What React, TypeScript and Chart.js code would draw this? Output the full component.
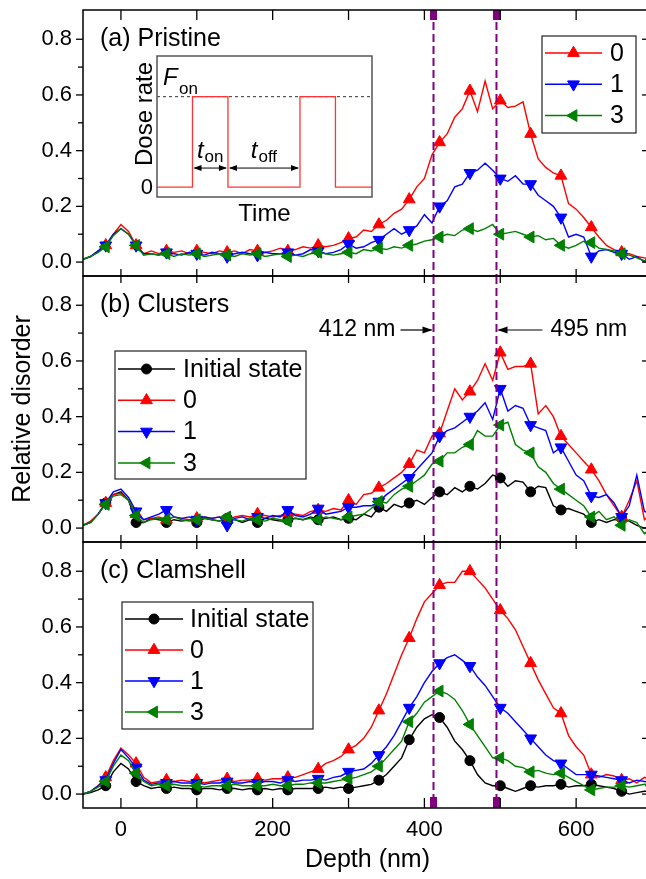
import React, { useEffect, useRef } from "react";
import { Chart, registerables } from "chart.js";
import { drawPoint } from "chart.js/helpers";

Chart.register(...registerables);

// ---------- DATA ----------
const depth = [
  -50, -40, -30, -20, -10, 0, 10, 20, 30, 40,
  50, 60, 70, 80, 90, 100, 110, 120, 130, 140,
  150, 160, 170, 180, 190, 200, 210, 220, 230, 240,
  250, 260, 270, 280, 290, 300, 310, 320, 330, 340,
  350, 360, 370, 380, 390, 400, 410, 420, 430, 440,
  450, 460, 470, 480, 490, 500, 510, 520, 530, 540,
  550, 560, 570, 580, 590, 600, 610, 620, 630, 640,
  650, 660, 670, 680, 690, 700,
];

// (a) Pristine
const aZero = [
  0.01, 0.02, 0.04, 0.06, 0.10, 0.135, 0.11, 0.06, 0.03, 0.04,
  0.03, 0.04, 0.035, 0.04, 0.03, 0.04, 0.035, 0.03, 0.04, 0.035,
  0.04, 0.03, 0.045, 0.04, 0.035, 0.04, 0.05, 0.04, 0.045, 0.055,
  0.05, 0.06, 0.055, 0.06, 0.07, 0.085, 0.09, 0.115, 0.11, 0.135,
  0.15, 0.175, 0.19, 0.225, 0.27, 0.30, 0.385, 0.43, 0.46, 0.52,
  0.55, 0.615, 0.54, 0.65, 0.55, 0.58, 0.555, 0.56, 0.575, 0.46,
  0.37, 0.34, 0.32, 0.31, 0.21, 0.19, 0.16, 0.125, 0.09, 0.06,
  0.045, 0.035, 0.03, 0.02, 0.015, 0.01,
];
const aOne = [
  0.01, 0.02, 0.04, 0.06, 0.10, 0.12, 0.10, 0.06, 0.03, 0.03,
  0.025, 0.035, 0.03, 0.025, 0.035, 0.03, 0.025, 0.035, 0.03, 0.02,
  0.03, 0.035, 0.03, 0.025, 0.035, 0.03, 0.03, 0.035, 0.025, 0.03,
  0.045, 0.04, 0.03, 0.035, 0.045, 0.065, 0.05, 0.055, 0.07, 0.08,
  0.10, 0.12, 0.10, 0.115, 0.13, 0.17, 0.14, 0.20, 0.22, 0.27,
  0.28, 0.32, 0.33, 0.355, 0.33, 0.30, 0.29, 0.31, 0.28, 0.28,
  0.24, 0.22, 0.20, 0.16, 0.09, 0.10, 0.09, 0.02, 0.04, 0.045,
  0.035, 0.03, 0.01, 0.02, 0.0, 0.01,
];
const aThree = [
  0.01, 0.02, 0.035, 0.055, 0.095, 0.12, 0.10, 0.06, 0.025, 0.03,
  0.025, 0.03, 0.02, 0.03, 0.025, 0.03, 0.02, 0.025, 0.03, 0.025,
  0.02, 0.03, 0.025, 0.03, 0.02, 0.025, 0.03, 0.02, 0.025, 0.02,
  0.03, 0.035, 0.03, 0.025, 0.03, 0.035, 0.03, 0.045, 0.04, 0.05,
  0.045, 0.055, 0.05, 0.06, 0.065, 0.075, 0.08, 0.09, 0.10, 0.095,
  0.115, 0.12, 0.11, 0.12, 0.135, 0.10, 0.105, 0.11, 0.10, 0.09,
  0.095, 0.08, 0.085, 0.06, 0.05, 0.06, 0.075, 0.07, 0.05, 0.045,
  0.04, 0.03, 0.025, 0.015, 0.005, 0.01,
];

// (b) Clusters
const bInitial = [
  0.01, 0.02, 0.05, 0.09, 0.12, 0.13, 0.10, 0.02, 0.02, 0.035,
  0.03, 0.02, 0.03, 0.025, 0.03, 0.02, 0.035, 0.03, 0.025, 0.035,
  0.03, 0.02, 0.03, 0.02, 0.035, 0.03, 0.025, 0.03, 0.035, 0.03,
  0.04, 0.03, 0.035, 0.04, 0.03, 0.035, 0.03, 0.05, 0.04, 0.075,
  0.06, 0.085, 0.075, 0.09, 0.10, 0.085, 0.11, 0.13, 0.12, 0.145,
  0.13, 0.15, 0.14, 0.16, 0.19, 0.18, 0.15, 0.17, 0.165, 0.13,
  0.15, 0.145, 0.08, 0.065, 0.07, 0.06, 0.05, 0.02, 0.03, 0.02,
  0.03, 0.035, 0.025, 0.01, 0.0, 0.01,
];
const bZero = [
  0.01, 0.025, 0.05, 0.09, 0.12, 0.125, 0.10, 0.05, 0.03, 0.035,
  0.04, 0.03, 0.04, 0.035, 0.03, 0.035, 0.04, 0.035, 0.04, 0.03,
  0.04, 0.045, 0.04, 0.05, 0.045, 0.04, 0.045, 0.055, 0.05, 0.045,
  0.06, 0.065, 0.06, 0.07, 0.065, 0.10, 0.085, 0.12, 0.125, 0.145,
  0.16, 0.18, 0.20, 0.23, 0.28, 0.27, 0.33, 0.34, 0.42, 0.50,
  0.46, 0.49, 0.53, 0.59, 0.53, 0.63, 0.57, 0.58, 0.58, 0.59,
  0.41, 0.44, 0.40, 0.33, 0.30, 0.27, 0.24, 0.21, 0.17, 0.12,
  0.08, 0.04, 0.10, 0.17, 0.03, 0.05,
];
const bOne = [
  0.01, 0.02, 0.05, 0.09, 0.13, 0.14, 0.11, 0.06, 0.03, 0.04,
  0.05, 0.065, 0.04, 0.035, 0.04, 0.03, 0.04, 0.035, 0.04, 0.01,
  0.035, 0.04, 0.03, 0.04, 0.035, 0.045, 0.04, 0.065, 0.045, 0.04,
  0.05, 0.07, 0.05, 0.055, 0.06, 0.075, 0.075, 0.08, 0.08, 0.095,
  0.12, 0.14, 0.16, 0.18, 0.21, 0.24, 0.27, 0.33, 0.35, 0.36,
  0.38, 0.40, 0.42, 0.45, 0.39, 0.50, 0.42, 0.44, 0.43, 0.37,
  0.36, 0.35, 0.27, 0.29, 0.24, 0.19, 0.17, 0.115, 0.11, 0.12,
  0.09, 0.04, 0.08, 0.19, 0.06, 0.05,
];
const bThree = [
  0.01, 0.02, 0.05, 0.085, 0.115, 0.12, 0.10, 0.045, 0.02, 0.03,
  0.035, 0.03, 0.04, 0.03, 0.025, 0.03, 0.035, 0.03, 0.025, 0.04,
  0.03, 0.025, 0.035, 0.03, 0.025, 0.035, 0.03, 0.025, 0.035, 0.03,
  0.035, 0.03, 0.04, 0.035, 0.03, 0.04, 0.045, 0.05, 0.07, 0.095,
  0.09, 0.12, 0.14, 0.15, 0.17, 0.19, 0.23, 0.24, 0.27, 0.27,
  0.29, 0.30, 0.35, 0.33, 0.33, 0.37, 0.38, 0.30, 0.28, 0.27,
  0.22, 0.20, 0.16, 0.14, 0.12, 0.10, 0.08, 0.04, 0.06, 0.03,
  0.04, 0.01, 0.03, 0.02, -0.02, 0.0,
];

// (c) Clamshell
const cInitial = [
  0.0, 0.005, 0.015, 0.03, 0.08, 0.11, 0.09, 0.045, 0.03, 0.02,
  0.025, 0.02, 0.025, 0.02, 0.02, 0.015, 0.02, 0.02, 0.015, 0.02,
  0.02, 0.015, 0.02, 0.015, 0.02, 0.015, 0.02, 0.015, 0.02, 0.02,
  0.02, 0.02, 0.025, 0.02, 0.025, 0.02, 0.025, 0.03, 0.035, 0.05,
  0.07, 0.10, 0.13, 0.195, 0.24, 0.27, 0.285, 0.275, 0.24, 0.19,
  0.16, 0.12, 0.07, 0.04, 0.03, 0.03, 0.02, 0.01, 0.02, 0.03,
  0.025, 0.03, 0.03, 0.035, 0.025, 0.03, 0.03, 0.035, 0.03, 0.025,
  0.02, 0.01, 0.0, 0.005, 0.01, 0.01,
];
const cZero = [
  0.0, 0.01, 0.03, 0.06, 0.12, 0.165, 0.14, 0.11, 0.06, 0.04,
  0.045, 0.05, 0.045, 0.05, 0.045, 0.05, 0.04, 0.045, 0.05, 0.055,
  0.045, 0.05, 0.05, 0.055, 0.05, 0.055, 0.055, 0.06, 0.06, 0.07,
  0.08, 0.09, 0.11, 0.12, 0.135, 0.16, 0.175, 0.20, 0.24, 0.30,
  0.36, 0.43, 0.50, 0.56, 0.63, 0.69, 0.72, 0.75, 0.76, 0.76,
  0.80, 0.80, 0.77, 0.74, 0.70, 0.66, 0.63, 0.59, 0.53, 0.47,
  0.41, 0.36, 0.31, 0.29, 0.21, 0.17, 0.14, 0.07, 0.06, 0.07,
  0.065, 0.05, 0.055, 0.04, 0.06, 0.05,
];
const cOne = [
  0.0, 0.01, 0.03, 0.05, 0.11, 0.16, 0.13, 0.095, 0.05, 0.035,
  0.04, 0.04, 0.045, 0.04, 0.04, 0.04, 0.035, 0.04, 0.04, 0.045,
  0.04, 0.04, 0.045, 0.04, 0.045, 0.045, 0.04, 0.05, 0.045, 0.05,
  0.05, 0.055, 0.05, 0.06, 0.065, 0.08, 0.085, 0.09, 0.11, 0.14,
  0.17, 0.21, 0.26, 0.31, 0.35, 0.40, 0.44, 0.47, 0.49, 0.50,
  0.48, 0.46, 0.42, 0.39, 0.35, 0.31, 0.29, 0.26, 0.23, 0.20,
  0.17, 0.14, 0.12, 0.11, 0.09, 0.07, 0.07, 0.07, 0.065, 0.06,
  0.055, 0.05, 0.04, 0.05, 0.045, 0.04,
];
const cThree = [
  0.0, 0.01, 0.025, 0.045, 0.10, 0.14, 0.12, 0.075, 0.045, 0.03,
  0.035, 0.03, 0.035, 0.03, 0.03, 0.03, 0.025, 0.03, 0.03, 0.03,
  0.035, 0.03, 0.03, 0.03, 0.03, 0.035, 0.03, 0.03, 0.035, 0.035,
  0.04, 0.04, 0.04, 0.045, 0.05, 0.055, 0.06, 0.07, 0.08, 0.10,
  0.13, 0.16, 0.19, 0.26, 0.29, 0.33, 0.35, 0.37, 0.36, 0.34,
  0.30, 0.25, 0.21, 0.17, 0.13, 0.13, 0.12, 0.10, 0.095, 0.08,
  0.085, 0.075, 0.07, 0.075, 0.06, 0.045, 0.03, 0.015, 0.02, 0.025,
  0.025, 0.03, 0.025, 0.03, 0.035, 0.03,
];

// inset (dose rate vs time)
const insetTime = [0, 1.65, 1.65, 3.3, 3.3, 6.65, 6.65, 8.3, 8.3, 10];
const insetDose = [0, 0, 1, 1, 0, 0, 1, 1, 0, 0];
const insetLevelTime = [0, 10];
const insetLevel = [1, 1];

// ticks / labels
const xTickLabels = [0, 200, 400, 600];
const xTickMarks = [0, 100, 200, 300, 400, 500, 600, 700];
const yTickLabels = [0, 0.2, 0.4, 0.6, 0.8];
const yMinorTicks = [0.1, 0.3, 0.5, 0.7];
const markerDepths = [412, 495];
const markerDepthLabels = ["412 nm", "495 nm"];
const seriesNames = { initial: "Initial state", zero: "0", one: "1", three: "3" };

// ---------- STYLE ----------
const FONT = "'Liberation Sans', Arial, Helvetica, sans-serif";
const TXT = 25;
const PURPLE = "#800080";
const CW = 660;
const CH = 879;
const STYLES: Record<string, any> = {
  initial: { color: "#000000", point: "circle", rot: 0, radius: 5, order: 3 },
  zero: { color: "#ff0000", point: "triangle", rot: 0, radius: 6.8, order: 2 },
  one: { color: "#0000ff", point: "triangle", rot: 180, radius: 6.8, order: 1 },
  three: { color: "#008000", point: "triangle", rot: 270, radius: 6.8, order: 0 },
};

type Series = { key: string; values: number[] };
type Panel = {
  key: string;
  label: string;
  top: number;
  bottom: number;
  showX: boolean;
  series: Series[];
  legend: { x: number; y: number; w: number; h: number; row0: number; step: number; l0: number; l1: number; tx: number };
  tickTop: number;
  tickBottom: number;
  capTop?: boolean;
  capBottom?: boolean;
  yTitle?: boolean;
  arrows?: boolean;
};

const PANELS: Panel[] = [
  {
    key: "a", label: "(a) Pristine", top: 10, bottom: 276, showX: false, capTop: true, tickTop: 10, tickBottom: 7,
    series: [{ key: "zero", values: aZero }, { key: "one", values: aOne }, { key: "three", values: aThree }],
    legend: { x: 542, y: 36, w: 94, h: 97, row0: 53, step: 31.3, l0: 545, l1: 602, tx: 610 },
  },
  {
    key: "b", label: "(b) Clusters", top: 276, bottom: 542, showX: false, yTitle: true, arrows: true, tickTop: 7, tickBottom: 7,
    series: [
      { key: "initial", values: bInitial }, { key: "zero", values: bZero },
      { key: "one", values: bOne }, { key: "three", values: bThree },
    ],
    legend: { x: 115, y: 351, w: 191, h: 128, row0: 369, step: 31.3, l0: 118, l1: 175, tx: 183 },
  },
  {
    key: "c", label: "(c) Clamshell", top: 542, bottom: 808, showX: true, capBottom: true, tickTop: 7, tickBottom: 10,
    series: [
      { key: "initial", values: cInitial }, { key: "zero", values: cZero },
      { key: "one", values: cOne }, { key: "three", values: cThree },
    ],
    legend: { x: 122, y: 602, w: 191, h: 127, row0: 619, step: 31, l0: 125, l1: 183, tx: 190 },
  },
];

function seg(ctx: CanvasRenderingContext2D, x0: number, y0: number, x1: number, y1: number) {
  ctx.beginPath();
  ctx.moveTo(x0, y0);
  ctx.lineTo(x1, y1);
  ctx.stroke();
}

function arrowHead(ctx: CanvasRenderingContext2D, x: number, y: number, dir: number, len: number, hw: number) {
  ctx.beginPath();
  ctx.moveTo(x, y);
  ctx.lineTo(x - dir * len, y - hw);
  ctx.lineTo(x - dir * len, y + hw);
  ctx.closePath();
  ctx.fill();
}

function makeDecor(p: Panel) {
  return {
    id: "decor_" + p.key,
    afterDatasetsDraw(chart: any) {
      const { ctx, chartArea: ca, scales } = chart;
      const xs = scales.x;
      ctx.save();
      ctx.strokeStyle = PURPLE;
      ctx.fillStyle = PURPLE;
      ctx.lineWidth = 2;
      ctx.setLineDash([8, 4]);
      for (const v of markerDepths) {
        const px = xs.getPixelForValue(v);
        seg(ctx, px, ca.top, px, ca.bottom);
      }
      ctx.setLineDash([]);
      for (const v of markerDepths) {
        const px = xs.getPixelForValue(v);
        if (p.capTop) ctx.fillRect(px - 3.5, ca.top, 7, 10);
        if (p.capBottom) ctx.fillRect(px - 3.5, ca.bottom - 11, 7, 11);
      }
      ctx.restore();
    },
    afterDraw(chart: any) {
      const { ctx, chartArea: ca, scales } = chart;
      const xs = scales.x;
      const ys = scales.y;
      ctx.save();
      // frame
      ctx.strokeStyle = "#000";
      ctx.lineWidth = 1.5;
      ctx.strokeRect(ca.left, ca.top, ca.right - ca.left, ca.bottom - ca.top);
      // x ticks (inward, top and bottom)
      ctx.lineWidth = 1.3;
      for (const v of xTickMarks) {
        const px = xs.getPixelForValue(v);
        seg(ctx, px, ca.top, px, ca.top + p.tickTop);
        seg(ctx, px, ca.bottom, px, ca.bottom - p.tickBottom);
      }
      // y ticks (outward left, inward right)
      for (const v of yTickLabels) {
        const py = ys.getPixelForValue(v);
        seg(ctx, ca.left - 7, py, ca.left, py);
        seg(ctx, ca.right, py, ca.right - 10, py);
      }
      for (const v of yMinorTicks) {
        const py = ys.getPixelForValue(v);
        seg(ctx, ca.left - 5, py, ca.left, py);
        seg(ctx, ca.right, py, ca.right - 5, py);
      }
      // panel label
      ctx.fillStyle = "#000";
      ctx.font = `${TXT}px ${FONT}`;
      ctx.textBaseline = "middle";
      ctx.textAlign = "left";
      ctx.fillText(p.label, 100, ca.top + 29);

      // legend
      const L = p.legend;
      ctx.fillStyle = "#fff";
      ctx.fillRect(L.x, L.y, L.w, L.h);
      ctx.strokeStyle = "#222";
      ctx.lineWidth = 1.2;
      ctx.strokeRect(L.x, L.y, L.w, L.h);
      p.series.forEach((s, i) => {
        const st = STYLES[s.key];
        const y = L.row0 + i * L.step;
        ctx.strokeStyle = st.color;
        ctx.fillStyle = st.color;
        ctx.lineWidth = 1.5;
        seg(ctx, L.l0, y, L.l1, y);
        ctx.lineWidth = 1;
        drawPoint(ctx, { pointStyle: st.point, rotation: st.rot, radius: st.radius, borderWidth: 1 } as any, (L.l0 + L.l1) / 2, y);
        ctx.fillStyle = "#000";
        ctx.font = `${TXT}px ${FONT}`;
        ctx.textAlign = "left";
        ctx.textBaseline = "middle";
        ctx.fillText((seriesNames as any)[s.key], L.tx, y + 1);
      });

      // depth markers annotations
      if (p.arrows) {
        const y = ca.top + 54;
        const x1 = xs.getPixelForValue(markerDepths[0]);
        const x2 = xs.getPixelForValue(markerDepths[1]);
        ctx.fillStyle = "#000";
        ctx.strokeStyle = "#000";
        ctx.lineWidth = 1.2;
        ctx.font = `23px ${FONT}`;
        ctx.textBaseline = "middle";
        ctx.textAlign = "right";
        ctx.fillText(markerDepthLabels[0], x1 - 38, y);
        seg(ctx, x1 - 33, y, x1 - 2, y);
        arrowHead(ctx, x1 - 1, y, 1, 10, 3.5);
        seg(ctx, x2 + 2, y, x2 + 46, y);
        arrowHead(ctx, x2 + 1, y, -1, 10, 3.5);
        ctx.textAlign = "left";
        ctx.fillText(markerDepthLabels[1], x2 + 54, y);
      }

      // axis titles
      if (p.yTitle) {
        ctx.save();
        ctx.translate(23, (ca.top + ca.bottom) / 2);
        ctx.rotate(-Math.PI / 2);
        ctx.fillStyle = "#000";
        ctx.font = `${TXT}px ${FONT}`;
        ctx.textAlign = "center";
        ctx.textBaseline = "middle";
        ctx.fillText("Relative disorder", 0, 0);
        ctx.restore();
      }
      if (p.showX) {
        ctx.fillStyle = "#000";
        ctx.font = `${TXT}px ${FONT}`;
        ctx.textAlign = "center";
        ctx.textBaseline = "middle";
        ctx.fillText("Depth (nm)", (ca.left + ca.right) / 2, ca.bottom + 52);
      }
      ctx.restore();
    },
  };
}

function buildPanel(canvas: HTMLCanvasElement, p: Panel) {
  const datasets = p.series.map((s) => {
    const st = STYLES[s.key];
    return {
      label: (seriesNames as any)[s.key],
      data: depth.map((d, i) => ({ x: d, y: s.values[i] })),
      borderColor: st.color,
      backgroundColor: st.color,
      borderWidth: 1.4,
      pointStyle: st.point,
      rotation: st.rot,
      pointRadius: (c: any) => (c.dataIndex % 4 === 3 ? st.radius : 0),
      pointBorderWidth: 1,
      pointHoverRadius: 0,
      pointHitRadius: 0,
      tension: 0,
      order: st.order,
    };
  });
  return new Chart(canvas, {
    type: "line",
    data: { datasets } as any,
    options: {
      animation: false,
      responsive: false,
      events: [],
      layout: { padding: { left: 0, right: 8, top: p.top, bottom: p.showX ? 0 : CH - p.bottom } },
      plugins: { legend: { display: false }, tooltip: { enabled: false } },
      scales: {
        x: {
          type: "linear",
          min: -50,
          max: 700,
          display: p.showX,
          grid: { display: false, drawTicks: false },
          border: { display: false },
          ticks: { color: "#000", padding: 9, maxRotation: 0, font: { size: 22, family: FONT }, callback: (v: any) => String(v) },
          afterBuildTicks: (s: any) => {
            s.ticks = xTickLabels.map((v) => ({ value: v }));
          },
          afterFit: (s: any) => {
            s.height = p.showX ? CH - p.bottom : 0;
            s.paddingLeft = 0;
            s.paddingRight = 0;
            s.paddingTop = 0;
            s.paddingBottom = 0;
          },
        },
        y: {
          type: "linear",
          min: -0.05,
          max: 0.905,
          grid: { display: false, drawTicks: false },
          border: { display: false },
          ticks: { color: "#000", padding: 11, font: { size: 22, family: FONT }, callback: (v: any) => Number(v).toFixed(1) },
          afterBuildTicks: (s: any) => {
            s.ticks = yTickLabels.map((v) => ({ value: v }));
          },
          afterFit: (s: any) => {
            s.width = 83;
            s.paddingLeft = 0;
            s.paddingRight = 0;
            s.paddingTop = 0;
            s.paddingBottom = 0;
          },
        },
      },
    } as any,
    plugins: [makeDecor(p)],
  });
}

const insetDecor = {
  id: "insetDecor",
  beforeDatasetsDraw(chart: any) {
    const { ctx, chartArea: ca } = chart;
    ctx.save();
    ctx.fillStyle = "#fff";
    ctx.fillRect(ca.left, ca.top, ca.right - ca.left, ca.bottom - ca.top);
    ctx.restore();
  },
  afterDraw(chart: any) {
    const { ctx, chartArea: ca, scales } = chart;
    const xs = scales.x;
    const ys = scales.y;
    ctx.save();
    ctx.strokeStyle = "#555";
    ctx.lineWidth = 1.5;
    ctx.strokeRect(ca.left, ca.top, ca.right - ca.left, ca.bottom - ca.top);
    ctx.fillStyle = "#000";
    // Dose rate
    ctx.save();
    ctx.translate(145, ca.top + 58);
    ctx.rotate(-Math.PI / 2);
    ctx.font = `24px ${FONT}`;
    ctx.textAlign = "center";
    ctx.textBaseline = "middle";
    ctx.fillText("Dose rate", 0, 0);
    ctx.restore();
    // 0 label
    ctx.font = `22px ${FONT}`;
    ctx.textAlign = "right";
    ctx.textBaseline = "middle";
    ctx.fillText("0", ca.left - 4, ys.getPixelForValue(0) + 1);
    // Time
    ctx.font = `24px ${FONT}`;
    ctx.textAlign = "center";
    ctx.fillText("Time", (ca.left + ca.right) / 2, ca.bottom + 17);
    // F_on
    const yHigh = ys.getPixelForValue(1);
    ctx.textAlign = "left";
    ctx.textBaseline = "alphabetic";
    ctx.font = `italic 24px ${FONT}`;
    ctx.fillText("F", ca.left + 6, yHigh - 12);
    ctx.font = `17px ${FONT}`;
    ctx.fillText("on", ca.left + 22, yHigh - 3);
    // arrows
    const y0 = ys.getPixelForValue(0);
    const ay = y0 - 19;
    const xa = xs.getPixelForValue(insetTime[1]);
    const xb = xs.getPixelForValue(insetTime[3]);
    const xc = xs.getPixelForValue(insetTime[5]);
    ctx.strokeStyle = "#000";
    ctx.lineWidth = 1;
    const dbl = (x0: number, x1: number) => {
      seg(ctx, x0 + 2, ay, x1 - 2, ay);
      arrowHead(ctx, x0 + 1, ay, -1, 8, 3);
      arrowHead(ctx, x1 - 1, ay, 1, 8, 3);
    };
    dbl(xa, xb);
    dbl(xb, xc);
    const sublabel = (sub: string, mid: number) => {
      ctx.font = `italic 24px ${FONT}`;
      const tw = ctx.measureText("t").width;
      ctx.font = `17px ${FONT}`;
      const sw = ctx.measureText(sub).width;
      const start = mid - (tw + sw + 1) / 2;
      ctx.font = `italic 24px ${FONT}`;
      ctx.fillText("t", start, ay - 10);
      ctx.font = `17px ${FONT}`;
      ctx.fillText(sub, start + tw + 1, ay - 6);
    };
    sublabel("on", (xa + xb) / 2);
    sublabel("off", (xb + xc) / 2);
    ctx.restore();
  },
};

function buildInset(canvas: HTMLCanvasElement) {
  return new Chart(canvas, {
    type: "line",
    data: {
      datasets: [
        {
          data: insetTime.map((t, i) => ({ x: t, y: insetDose[i] })),
          borderColor: "#ff3535",
          borderWidth: 1.3,
          pointRadius: 0,
          tension: 0,
          order: 0,
        },
        {
          data: insetLevelTime.map((t, i) => ({ x: t, y: insetLevel[i] })),
          borderColor: "#333",
          borderWidth: 1,
          borderDash: [3, 3],
          pointRadius: 0,
          tension: 0,
          order: 1,
        },
      ],
    } as any,
    options: {
      animation: false,
      responsive: false,
      events: [],
      layout: { padding: { left: 157, right: CW - 372, top: 56, bottom: CH - 197 } },
      plugins: { legend: { display: false }, tooltip: { enabled: false } },
      scales: {
        x: { type: "linear", min: 0, max: 10, display: false },
        y: { type: "linear", min: -0.11, max: 1.45, display: false },
      },
    } as any,
    plugins: [insetDecor],
  });
}

export default function App() {
  const ra = useRef<HTMLCanvasElement>(null);
  const rb = useRef<HTMLCanvasElement>(null);
  const rc = useRef<HTMLCanvasElement>(null);
  const ri = useRef<HTMLCanvasElement>(null);
  useEffect(() => {
    Chart.defaults.font.family = FONT;
    const charts = [
      buildPanel(ra.current!, PANELS[0]),
      buildPanel(rb.current!, PANELS[1]),
      buildPanel(rc.current!, PANELS[2]),
      buildInset(ri.current!),
    ];
    return () => charts.forEach((c) => c.destroy());
  }, []);
  const cs: React.CSSProperties = { position: "absolute", left: 0, top: 0, width: CW, height: CH };
  return (
    <div style={{ position: "fixed", left: 0, top: 0, width: 646, height: 879, overflow: "hidden", background: "#fff" }}>
      <canvas ref={ra} width={CW} height={CH} style={cs} />
      <canvas ref={rb} width={CW} height={CH} style={cs} />
      <canvas ref={rc} width={CW} height={CH} style={cs} />
      <canvas ref={ri} width={CW} height={CH} style={cs} />
    </div>
  );
}
